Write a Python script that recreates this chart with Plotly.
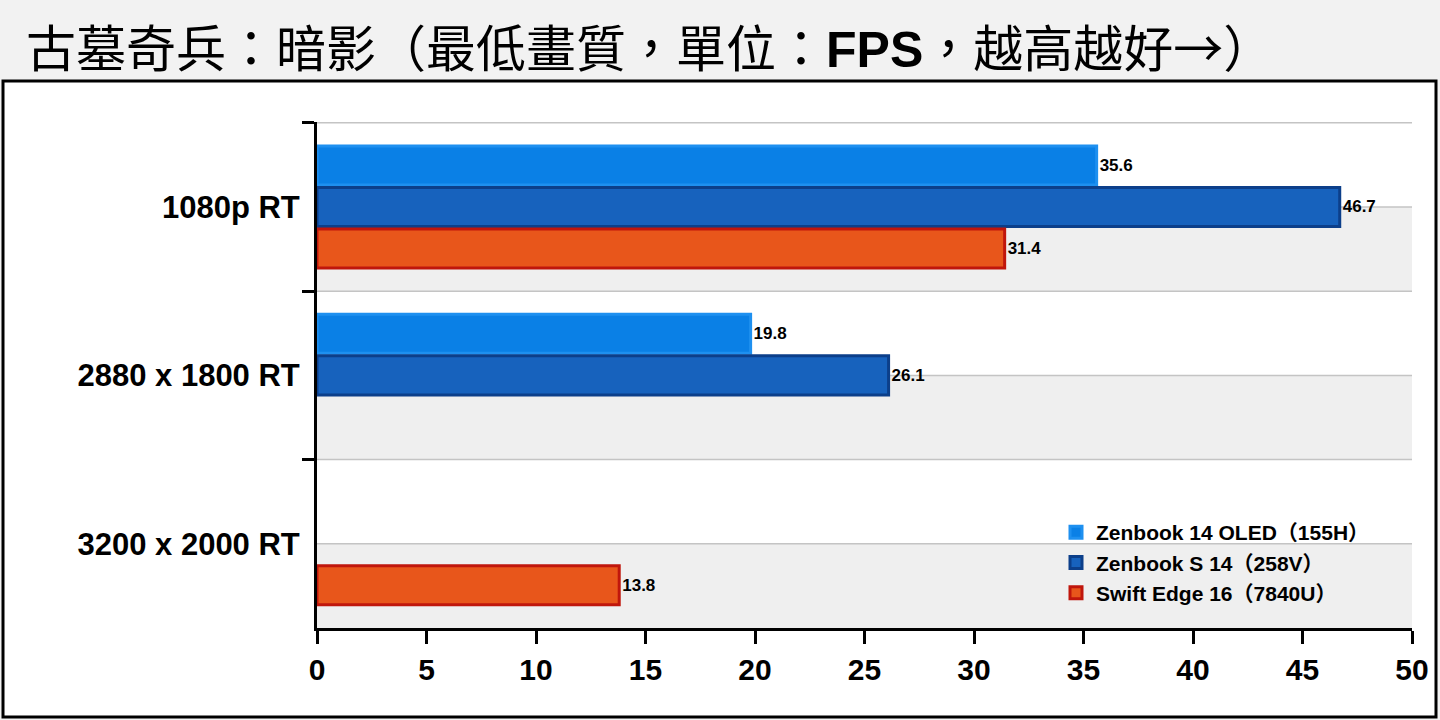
import plotly.graph_objects as go

# data
categories = ["1080p RT", "2880 x 1800 RT", "3200 x 2000 RT"]
series_names = ["Zenbook 14 OLED（155H）", "Zenbook S 14（258V）", "Swift Edge 16（7840U）"]
zenbook14 = [35.6, 19.8, None]
zenbook_s14 = [46.7, 26.1, None]
swift_edge16 = [31.4, None, 13.8]
x_ticks = list(range(0, 51, 5))

fills = ["#0a80e6", "#1762bd", "#e8561b"]
edges = ["#1e90f0", "#0c3f8a", "#c0160c"]

W, H = 1440, 720
L, R, T, B = 317, 28, 122, 92
pw, ph = W - L - R, H - T - B


def px(x):
    return (x - L) / pw


def py(y):
    return (H - B - y) / ph


fig = go.Figure()
for name, vals, fc, ec in zip(series_names, [zenbook14, zenbook_s14, swift_edge16], fills, edges):
    fig.add_trace(go.Bar(
        y=categories, x=vals, name=name, orientation="h",
        marker=dict(color=fc, line=dict(color=ec, width=3)),
        text=[f"{v}" if v is not None else "" for v in vals],
        textposition="outside", cliponaxis=False,
        textfont=dict(family="Liberation Sans", size=17, color="black", weight="bold"),
    ))

shapes = [
    # title band + chart frame
    dict(type="rect", xref="paper", yref="paper", x0=px(0), x1=px(W), y0=py(80), y1=py(0),
         fillcolor="#f2f2f2", line=dict(width=0), layer="below"),
    dict(type="rect", xref="paper", yref="paper", x0=px(3), x1=px(1436), y0=py(717), y1=py(81),
         fillcolor="white", line=dict(color="black", width=3), layer="below"),
]
for i in range(len(categories)):
    shapes.append(dict(type="rect", xref="x", yref="y", x0=0, x1=50, y0=i, y1=i + 0.5,
                       fillcolor="#efefef", line=dict(width=0), layer="below"))
    for yy in (i - 0.5, i):
        shapes.append(dict(type="line", xref="x", yref="y", x0=0, x1=50, y0=yy, y1=yy,
                           line=dict(color="#c4c4c4", width=1.5), layer="below"))

fig.update_layout(
    width=W, height=H,
    margin=dict(l=L, r=R, t=T, b=B),
    paper_bgcolor="#f2f2f2", plot_bgcolor="rgba(0,0,0,0)",
    barmode="group", bargap=0.26, bargroupgap=0.06,
    shapes=shapes,
    font=dict(family="Liberation Sans", color="black"),
    legend=dict(x=px(1056), y=py(512), xanchor="left", yanchor="top",
                bgcolor="rgba(0,0,0,0)", traceorder="normal", tracegroupgap=0,
                font=dict(family="Liberation Sans, Noto Sans CJK TC", size=21, color="black", weight="bold"),
                itemwidth=30),
    annotations=[dict(
        text=("古墓奇兵：暗影（最低畫質，單位："
              "<span style='font-family:Liberation Sans'><b>FPS</b></span>，越高越好→）"),
        xref="paper", yref="paper", x=px(24), y=py(45), xanchor="left", yanchor="middle",
        showarrow=False, font=dict(family="Noto Sans CJK TC", size=50, color="black"),
    )],
)
fig.update_xaxes(
    range=[0, 50], tickvals=x_ticks, showgrid=False, zeroline=False,
    showline=True, linecolor="black", linewidth=3,
    ticks="outside", ticklen=13, tickwidth=3, tickcolor="black",
    tickfont=dict(family="Liberation Sans", size=30, color="black", weight="bold"),
)
fig.update_yaxes(
    autorange="reversed", categoryorder="array", categoryarray=categories,
    tickson="boundaries", showgrid=False, zeroline=False,
    showline=True, linecolor="black", linewidth=3,
    ticks="outside", ticklen=12, tickwidth=3, tickcolor="black", ticklabelstandoff=8,
    tickfont=dict(family="Liberation Sans", size=31, color="black", weight="bold"),
)

# drop the default 8px body margin so the figure fills the window
fig.write_html("out.html", config={"displayModeBar": False},
               post_script="document.body.style.margin='0';")
